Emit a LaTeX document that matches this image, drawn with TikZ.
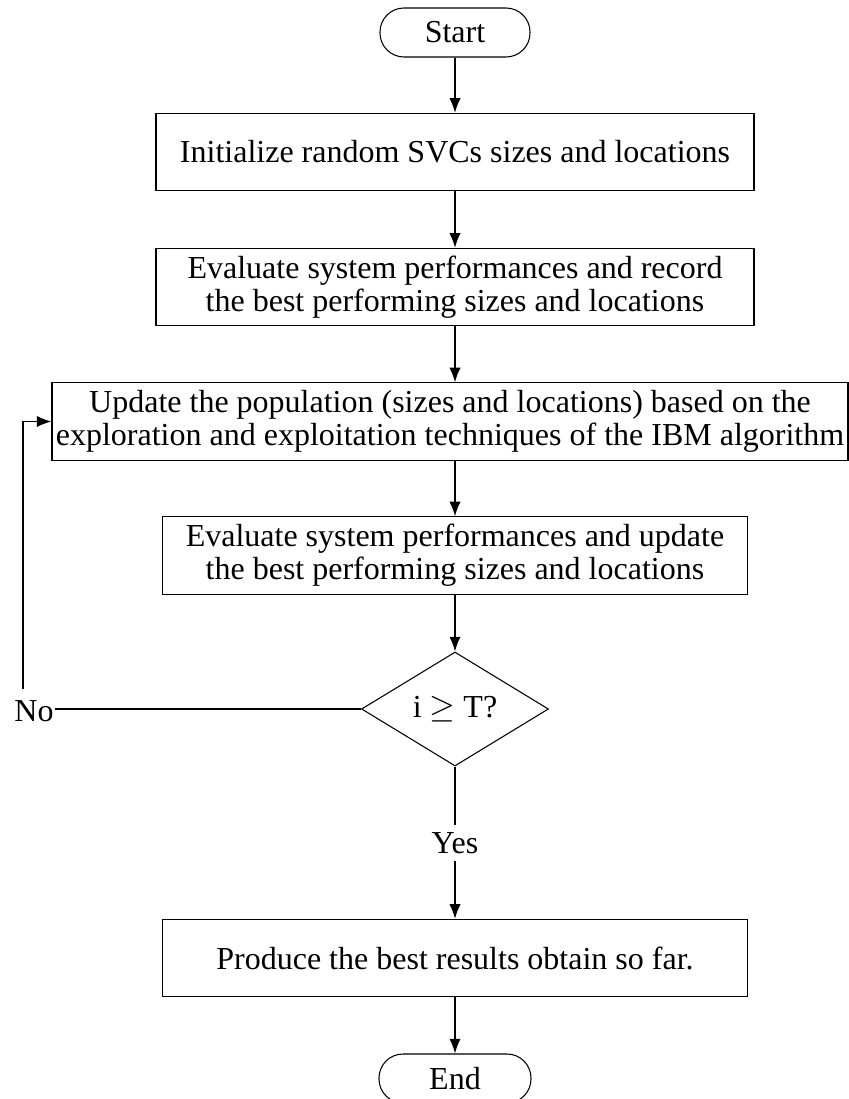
\documentclass[tikz,border=0pt]{standalone}
\usepackage{fontspec}
\setmainfont{Liberation Serif}
\usetikzlibrary{shapes.geometric,arrows.meta}
\begin{document}
\begin{tikzpicture}[x=0.75pt,y=-0.75pt,
  font=\fontsize{24pt}{24.5pt}\selectfont,
  box/.style={draw,line width=0.8pt,align=center,inner sep=0pt,minimum height=58pt},
  term/.style={draw,line width=0.8pt,rounded corners=18pt,minimum width=112.5pt,minimum height=36.75pt,inner sep=0pt},
  dec/.style={draw,line width=0.8pt,shape=diamond,aspect=1.64,minimum width=140.25pt,minimum height=85.5pt,inner sep=0pt},
  lbl/.style={inner sep=1pt},
  arr/.style={line width=1.1pt,-{Latex[length=11pt,width=8.5pt]}},
  ln/.style={line width=1.1pt}]
\useasboundingbox (0,0) rectangle (849,1099);
\clip (0,0) rectangle (849,1099);
\node[term] (start) at (455,32.5) {Start};
\node[box,minimum width=448.5pt] (b1) at (455,152) {Initialize random SVCs sizes and locations};
\node[box,minimum width=448.5pt] (b2) at (455,287) {Evaluate system performances and record\\the best performing sizes and locations};
\node[box,minimum width=597pt] (b3) at (450,421.5) {Update the population (sizes and locations) based on the\\exploration and exploitation techniques of the IBM algorithm};
\node[box,minimum width=438.75pt] (b4) at (455,555.5) {Evaluate system performances and update\\the best performing sizes and locations};
\node[dec] (d) at (455,709) {i $\geq$ T?};
\node[lbl,inner sep=5pt] (yes) at (455,843) {Yes};
\node[box,minimum width=438.75pt] (b5) at (455,958) {Produce the best results obtain so far.};
\node[term,minimum width=114pt] (end) at (455,1078.5) {End};
\node[lbl] (no) at (34,711) {No};
\coordinate (c1) at (23,689);
\coordinate (c2) at (23,421.5);
\draw[arr] (start) -- (b1);
\draw[arr] (b1) -- (b2);
\draw[arr] (b2.south) -- (455,0 |- b3.north);
\draw[arr] (455,0 |- b3.south) -- (b4.north);
\draw[arr] (b4) -- (d);
\draw[ln] (d) -- (yes);
\draw[arr] (yes) -- (b5);
\draw[arr] (b5) -- (end);
\draw[ln] (d.west) -- (d.west -| no.east);
\draw[arr] (c1) -- (c2) -- (b3.west);
\end{tikzpicture}
\end{document}
